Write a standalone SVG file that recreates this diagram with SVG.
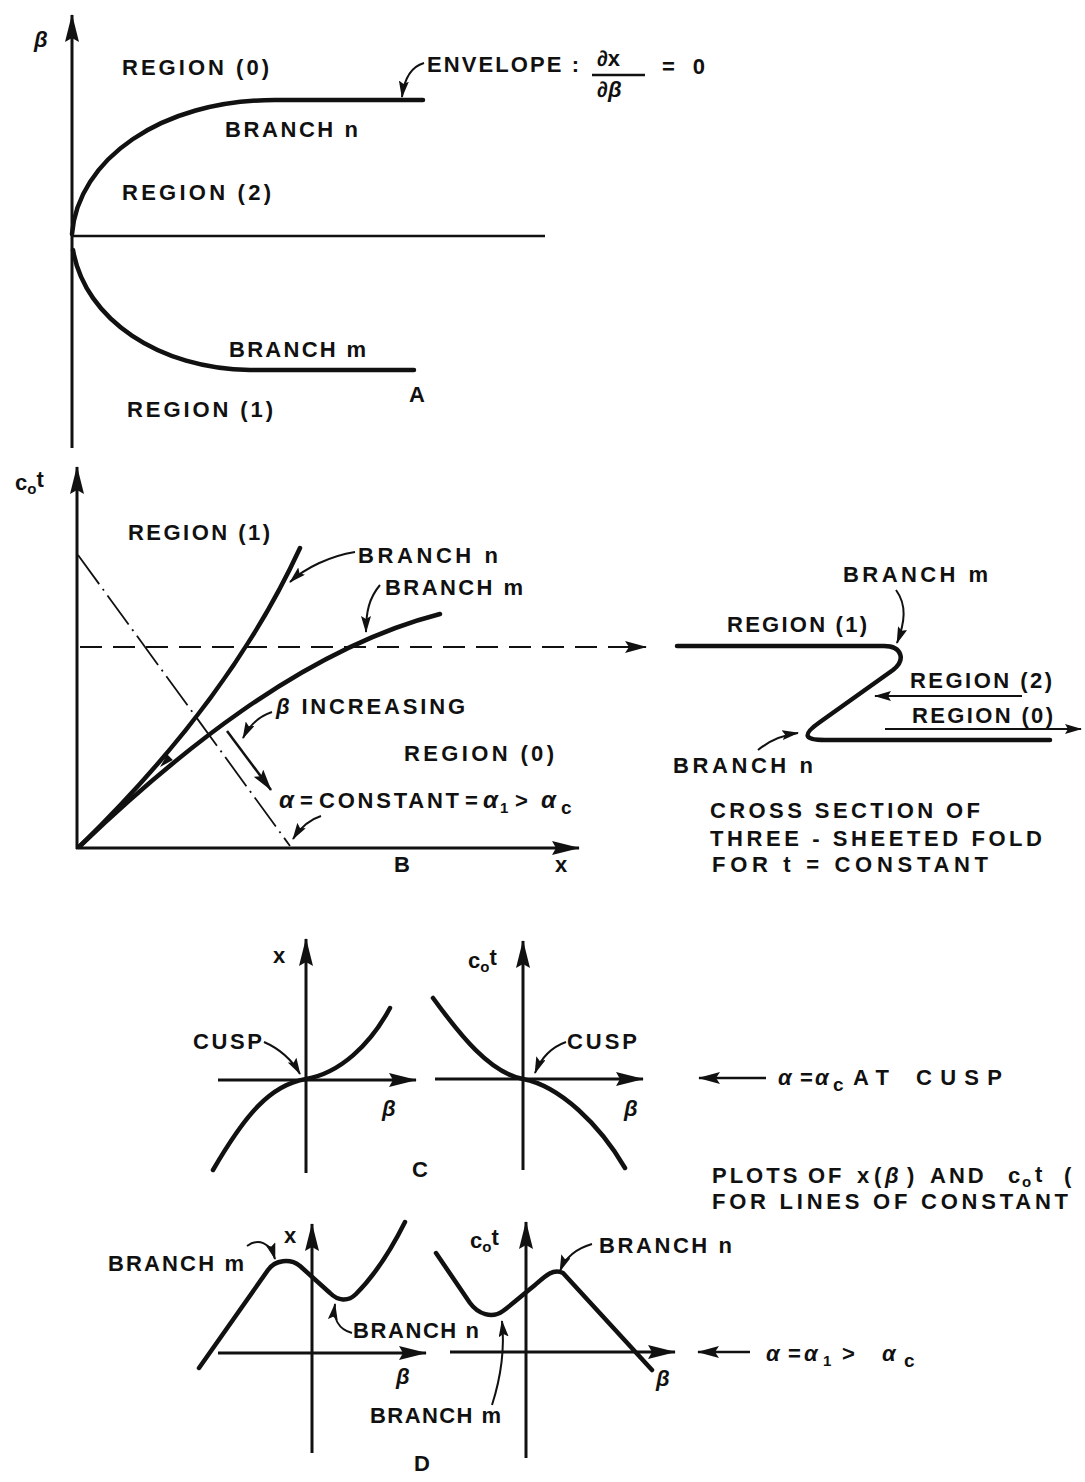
<svg xmlns="http://www.w3.org/2000/svg" width="1085" height="1482" viewBox="0 0 1085 1482">
<style>
.t{font-family:"Liberation Sans",Arial,sans-serif;font-weight:bold;font-size:22px;fill:#111}
.g{font-style:italic}
.s{font-size:15px}
.sc{font-size:19px}
.ln{stroke:#111;fill:none;stroke-linecap:butt}
.ax{stroke-width:3}
.cv{stroke-width:4.5;stroke-linecap:round;stroke-linejoin:round}
.ld{stroke-width:2}
</style>
<defs>
<marker id="ah" markerUnits="userSpaceOnUse" markerWidth="28" markerHeight="14" refX="27" refY="7" orient="auto"><path d="M0,0 L28,7 L0,14 L4,7 z" fill="#111"/></marker>
<marker id="am" markerUnits="userSpaceOnUse" markerWidth="22" markerHeight="12" refX="21" refY="6" orient="auto"><path d="M0,0 L22,6 L0,12 L4,6 z" fill="#111"/></marker>
<marker id="al" markerUnits="userSpaceOnUse" markerWidth="17" markerHeight="10" refX="16" refY="5" orient="auto"><path d="M0,0 L17,5 L0,10 L3,5 z" fill="#111"/></marker>
</defs>
<rect width="1085" height="1482" fill="#fff"/>

<g id="panel-A">
<g id="A-axes" class="ln">
<line class="ax" x1="72" y1="448" x2="72" y2="15" marker-end="url(#ah)"/>
<line x1="72" y1="236" x2="545" y2="236" stroke-width="2.5"/>
</g>
<g id="A-curves" class="ln">
<path class="cv" d="M72 234 C78 160 160 100 275 100 L423 100"/>
<path class="cv" d="M73 250 C85 320 160 369 250 370 L414 370"/>
</g>
<g id="A-leaders" class="ln ld">
<path d="M424 63 C410 67 404 80 402 97" marker-end="url(#al)"/>
</g>
<g id="A-labels">
<text class="t g" x="34" y="47" font-size="24">β</text>
<text class="t" x="122" y="75" textLength="147" lengthAdjust="spacing">REGION (0)</text>
<text class="t" x="427" y="72" textLength="152" lengthAdjust="spacing">ENVELOPE :</text>
<text class="t" x="597" y="66" font-size="28">∂x</text>
<line class="ln" x1="592" y1="75" x2="645" y2="75" stroke-width="2.5"/>
<text class="t" x="597" y="97" font-size="28">∂<tspan class="g">β</tspan></text>
<text class="t" x="662" y="74" font-size="24" textLength="43" lengthAdjust="spacing">= 0</text>
<text class="t" x="225" y="137" textLength="133" lengthAdjust="spacing">BRANCH n</text>
<text class="t" x="122" y="200" textLength="149" lengthAdjust="spacing">REGION (2)</text>
<text class="t" x="229" y="357" textLength="137" lengthAdjust="spacing">BRANCH m</text>
<text class="t" x="409" y="402">A</text>
<text class="t" x="127" y="417" textLength="146" lengthAdjust="spacing">REGION (1)</text>
</g>
</g>

<g id="panel-B">
<g id="B-axes" class="ln">
<line class="ax" x1="77" y1="849" x2="77" y2="467" marker-end="url(#ah)"/>
<line class="ax" x1="76" y1="848" x2="579" y2="848" marker-end="url(#ah)"/>
<line x1="78" y1="555" x2="290" y2="846" stroke-width="1.8" stroke-dasharray="36 6 2 6"/>
<line x1="80" y1="647" x2="646" y2="647" stroke-width="2.2" stroke-dasharray="22 11" marker-end="url(#am)"/>
</g>
<g id="B-curves" class="ln">
<path class="cv" d="M80 846 Q230 700 300 548"/>
<path class="cv" d="M80 846 C170 760 300 650 440 614"/>
<polygon points="160,767 172.8,760.1 167.2,754.3" fill="#111" stroke="none"/>
</g>
<g id="B-labels">
<text class="t" x="15" y="490">c<tspan class="s" dy="4">o</tspan><tspan dy="-7">t</tspan></text>
<text class="t" x="128" y="540" textLength="142" lengthAdjust="spacing">REGION (1)</text>
<text class="t" x="358" y="563" textLength="140" lengthAdjust="spacing">BRANCH n</text>
<text class="t" x="385" y="595" textLength="138" lengthAdjust="spacing">BRANCH m</text>
<text class="t" x="276" y="714" textLength="189" lengthAdjust="spacing"><tspan class="g">β</tspan> INCREASING</text>
<text class="t" x="404" y="761" textLength="150" lengthAdjust="spacing">REGION (0)</text>
<text class="t" y="808"><tspan class="g" x="279" font-size="24">α</tspan><tspan x="300">=</tspan><tspan x="319" textLength="140" lengthAdjust="spacing">CONSTANT</tspan><tspan x="465">=</tspan><tspan class="g" x="483" font-size="24">α</tspan><tspan class="s" x="500" dy="5">1</tspan><tspan x="515" dy="-5">&gt;</tspan><tspan class="g" x="541" font-size="24">α</tspan><tspan class="sc" x="561" dy="6">c</tspan></text>
<text class="t" x="394" y="872">B</text>
<text class="t" x="555" y="872">x</text>
</g>
<g id="B-leaders" class="ln ld">
<path d="M355 552 C330 556 305 568 290 582" marker-end="url(#al)"/>
<path d="M380 585 C369 598 366 612 366 632" marker-end="url(#al)"/>
<path d="M272 712 C260 716 250 724 243 738" marker-end="url(#al)"/>
<line x1="227" y1="731" x2="271" y2="790" stroke-width="2.5" marker-end="url(#am)"/>
<path d="M321 816 C308 820 300 828 293 839" marker-end="url(#al)"/>
</g>
</g>

<g id="cross-section">
<g id="X-curve" class="ln">
<path class="cv" d="M677 646 L884 646 C902 646 906 660 893 670 L820 722 C800 736 806 740 825 740 L1050 740"/>
</g>
<g id="X-leaders" class="ln ld">
<line x1="1022" y1="696" x2="875" y2="696" marker-end="url(#al)"/>
<line x1="885" y1="729" x2="1081" y2="729" marker-end="url(#al)"/>
<path d="M896 590 C907 605 905 622 897 643" marker-end="url(#al)"/>
<path d="M758 750 C770 740 783 735 798 733" marker-end="url(#al)"/>
</g>
<g id="X-labels">
<text class="t" x="843" y="582" textLength="145" lengthAdjust="spacing">BRANCH m</text>
<text class="t" x="727" y="632" textLength="140" lengthAdjust="spacing">REGION (1)</text>
<text class="t" x="910" y="688" textLength="142" lengthAdjust="spacing">REGION (2)</text>
<text class="t" x="912" y="723" textLength="141" lengthAdjust="spacing">REGION (0)</text>
<text class="t" x="673" y="773" textLength="140" lengthAdjust="spacing">BRANCH n</text>
<text class="t" x="710" y="818" textLength="270" lengthAdjust="spacing">CROSS SECTION OF</text>
<text class="t" x="710" y="846" textLength="332" lengthAdjust="spacing">THREE - SHEETED FOLD</text>
<text class="t" x="712" y="872" textLength="276" lengthAdjust="spacing">FOR  t = CONSTANT</text>
</g>
</g>

<g id="panel-C">
<g id="C-axes" class="ln">
<line class="ax" x1="306" y1="1173" x2="306" y2="939" marker-end="url(#ah)"/>
<line class="ax" x1="218" y1="1080" x2="416" y2="1080" marker-end="url(#ah)"/>
<line class="ax" x1="523" y1="1170" x2="523" y2="941" marker-end="url(#ah)"/>
<line class="ax" x1="435" y1="1079" x2="643" y2="1079" marker-end="url(#ah)"/>
</g>
<g id="C-curves" class="ln">
<path class="cv" d="M213 1170 C245 1115 270 1085 306 1079 C340 1073 370 1045 390 1008"/>
<path class="cv" d="M433 998 C460 1035 490 1073 523 1079 C560 1086 600 1125 625 1168"/>
</g>
<g id="C-leaders" class="ln ld">
<path d="M264 1042 C280 1049 292 1060 300 1074" marker-end="url(#al)"/>
<path d="M566 1042 C552 1047 541 1058 535 1073" marker-end="url(#al)"/>
<line x1="766" y1="1078" x2="699" y2="1078" stroke-width="2.5" marker-end="url(#am)"/>
</g>
<g id="C-labels">
<text class="t" x="273" y="963">x</text>
<text class="t" x="468" y="968">c<tspan class="s" dy="4">o</tspan><tspan dy="-7">t</tspan></text>
<text class="t" x="193" y="1049" textLength="69" lengthAdjust="spacing">CUSP</text>
<text class="t" x="567" y="1049" textLength="70" lengthAdjust="spacing">CUSP</text>
<text class="t g" x="382" y="1116" font-size="24">β</text>
<text class="t g" x="624" y="1116" font-size="24">β</text>
<text class="t" x="412" y="1177">C</text>
<text class="t" y="1085" font-size="24"><tspan class="g" x="778">α</tspan><tspan x="800">=</tspan><tspan class="g" x="815">α</tspan><tspan class="sc" x="833" dy="6">c</tspan><tspan x="853" dy="-6" textLength="36" lengthAdjust="spacing">AT</tspan><tspan x="916" textLength="86" lengthAdjust="spacing">CUSP</tspan></text>
<text class="t" y="1183" letter-spacing="3"><tspan x="712">PLOTS</tspan><tspan x="808">OF</tspan><tspan x="857">x</tspan><tspan x="874">(</tspan><tspan class="g" x="885">β</tspan><tspan x="907">)</tspan><tspan x="930">AND</tspan><tspan x="1008">c</tspan><tspan class="s" x="1022" dy="4">o</tspan><tspan x="1035" dy="-5">t</tspan><tspan x="1064" dy="1">(</tspan></text>
<text class="t" x="712" y="1209" textLength="356" lengthAdjust="spacing">FOR LINES OF CONSTANT</text>
</g>
</g>

<g id="panel-D">
<g id="D-axes" class="ln">
<line class="ax" x1="312" y1="1453" x2="312" y2="1224" marker-end="url(#ah)"/>
<line class="ax" x1="218" y1="1353" x2="426" y2="1353" marker-end="url(#ah)"/>
<line class="ax" x1="526" y1="1458" x2="526" y2="1222" marker-end="url(#ah)"/>
<line class="ax" x1="450" y1="1352" x2="675" y2="1352" marker-end="url(#ah)"/>
</g>
<g id="D-curves" class="ln">
<path class="cv" d="M199 1368 L268 1270 C275 1260 290 1258 300 1266 L330 1293 C338 1301 348 1302 356 1294 C375 1275 392 1248 405 1222"/>
<path class="cv" d="M436 1253 L470 1303 C478 1314 492 1319 503 1311 C515 1302 525 1293 535 1285 C545 1276 553 1268 563 1273 L652 1370"/>
</g>
<g id="D-leaders" class="ln ld">
<path d="M247 1246 C258 1238 270 1242 275 1259" marker-end="url(#al)"/>
<path d="M352 1333 C338 1329 333 1318 335 1304" marker-end="url(#al)"/>
<path d="M492 1405 C500 1380 505 1350 502 1321" marker-end="url(#al)"/>
<path d="M592 1244 C578 1248 566 1256 560 1271" marker-end="url(#al)"/>
<line x1="750" y1="1352" x2="698" y2="1352" stroke-width="2.5" marker-end="url(#am)"/>
</g>
<g id="D-labels">
<text class="t" x="284" y="1243">x</text>
<text class="t" x="108" y="1271" textLength="136" lengthAdjust="spacing">BRANCH m</text>
<text class="t" x="353" y="1338" textLength="126" lengthAdjust="spacing">BRANCH n</text>
<text class="t g" x="396" y="1384" font-size="24">β</text>
<text class="t" x="370" y="1423" textLength="131" lengthAdjust="spacing">BRANCH m</text>
<text class="t" x="470" y="1248">c<tspan class="s" dy="4">o</tspan><tspan dy="-7">t</tspan></text>
<text class="t" x="599" y="1253" textLength="133" lengthAdjust="spacing">BRANCH n</text>
<text class="t g" x="656" y="1386" font-size="24">β</text>
<text class="t" x="414" y="1471">D</text>
<text class="t" y="1361" font-size="24"><tspan class="g" x="766">α</tspan><tspan x="788">=</tspan><tspan class="g" x="804">α</tspan><tspan class="s" x="823" dy="5">1</tspan><tspan x="842" dy="-5">&gt;</tspan><tspan class="g" x="882">α</tspan><tspan class="sc" x="904" dy="6">c</tspan></text>
</g>
</g>
</svg>
